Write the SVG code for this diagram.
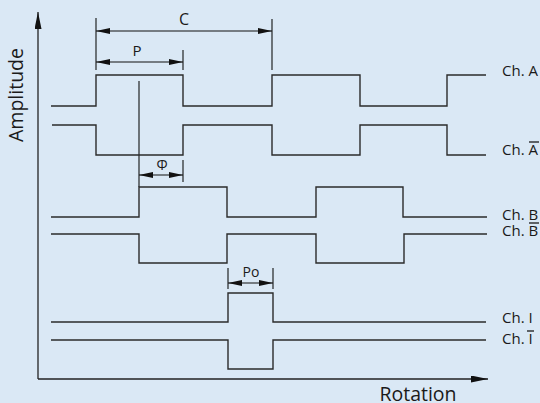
<svg xmlns="http://www.w3.org/2000/svg" width="540" height="403" viewBox="0 0 540 403">
<defs>
<style>
.bg{fill:#dae8f5}
.wave{fill:none;stroke:#2b2b2b;stroke-width:1.4}
.dim{fill:none;stroke:#111;stroke-width:1.1}
.axis{fill:none;stroke:#222;stroke-width:1.3}
.ovl{stroke:#1a1a1a;stroke-width:1.3}
.lbl{font-family:"Open Sans","Noto Sans","Liberation Sans",sans-serif;fill:#1a1a1a;font-size:15px}
.dlbl{font-family:"Open Sans","Noto Sans","Liberation Sans",sans-serif;fill:#1a1a1a;text-anchor:middle}
.big{font-family:"Open Sans","Noto Sans","Liberation Sans",sans-serif;fill:#1a1a1a;font-size:19.5px;text-anchor:middle}
</style>
<marker id="dimArrow" viewBox="0 0 14 6" refX="14" refY="3" markerWidth="14" markerHeight="6" markerUnits="userSpaceOnUse" orient="auto-start-reverse">
<path d="M0,0 L14,3 L0,6 z" fill="#111"/>
</marker>
<marker id="axArrow" viewBox="0 0 17 7" refX="17" refY="3.5" markerWidth="17" markerHeight="7" markerUnits="userSpaceOnUse" orient="auto">
<path d="M0,0 L17,3.5 L0,7 z" fill="#111"/>
</marker>
</defs>
<rect class="bg" x="0" y="0" width="540" height="403"/>

<g id="axes">
<line class="axis" x1="38" y1="379" x2="38" y2="12" marker-end="url(#axArrow)"/>
<line class="axis" x1="38" y1="379" x2="488" y2="379" marker-end="url(#axArrow)"/>
<text class="big" transform="translate(23,95) rotate(-90)">Amplitude</text>
<text class="big" x="418" y="401">Rotation</text>
</g>

<g id="connectors">
<line class="dim" x1="96" y1="18" x2="96" y2="70"/>
<line class="dim" x1="272" y1="19" x2="272" y2="70"/>
<line class="dim" x1="96" y1="31" x2="272" y2="31" marker-start="url(#dimArrow)" marker-end="url(#dimArrow)"/>
<line class="dim" x1="183" y1="50" x2="183" y2="70"/>
<line class="dim" x1="96" y1="62" x2="183" y2="62" marker-start="url(#dimArrow)" marker-end="url(#dimArrow)"/>
<line class="dim" x1="139" y1="81" x2="139" y2="187"/>
<line class="dim" x1="183" y1="160" x2="183" y2="182"/>
<line class="dim" x1="139" y1="175" x2="183" y2="175" marker-start="url(#dimArrow)" marker-end="url(#dimArrow)"/>
<line class="dim" x1="228" y1="268" x2="228" y2="289"/>
<line class="dim" x1="273" y1="268" x2="273" y2="289"/>
<line class="dim" x1="228" y1="283" x2="273" y2="283" marker-start="url(#dimArrow)" marker-end="url(#dimArrow)"/>
</g>

<g id="dim-labels">
<text class="dlbl" x="184" y="25" font-size="16">C</text>
<text class="dlbl" x="137" y="56" font-size="15">P</text>
<text class="dlbl" x="162" y="170" font-size="14">Φ</text>
<text class="dlbl" x="251" y="277" font-size="14">Po</text>
</g>

<g id="ch-a">
<path class="wave" d="M51,106 H96 V75 H183 V106 H272 V75 H360 V106 H447 V75 H486"/>
<text class="lbl" x="502" y="76">Ch. A</text>
</g>
<g id="ch-a-bar">
<path class="wave" d="M52,125 H96 V155 H183 V125 H272 V155 H360 V125 H447 V155 H486"/>
<text class="lbl" x="502" y="155">Ch. A</text>
<line class="ovl" x1="529" y1="142" x2="539" y2="142"/>
</g>
<g id="ch-b">
<path class="wave" d="M51,217 H139 V187 H227 V217 H316 V187 H403 V217 H487"/>
<text class="lbl" x="502" y="220">Ch. B</text>
</g>
<g id="ch-b-bar">
<path class="wave" d="M51,234 H139 V263 H227 V234 H316 V263 H404 V234 H487"/>
<text class="lbl" x="502" y="236">Ch. B</text>
<line class="ovl" x1="529" y1="223" x2="539" y2="223"/>
</g>
<g id="ch-i">
<path class="wave" d="M51,322 H228 V293 H273 V322 H486"/>
<text class="lbl" x="502" y="323">Ch. I</text>
</g>
<g id="ch-i-bar">
<path class="wave" d="M51,340 H228 V369 H273 V340 H486"/>
<text class="lbl" x="502" y="344">Ch. I</text>
<line class="ovl" x1="527" y1="331" x2="534" y2="331"/>
</g>
</svg>
